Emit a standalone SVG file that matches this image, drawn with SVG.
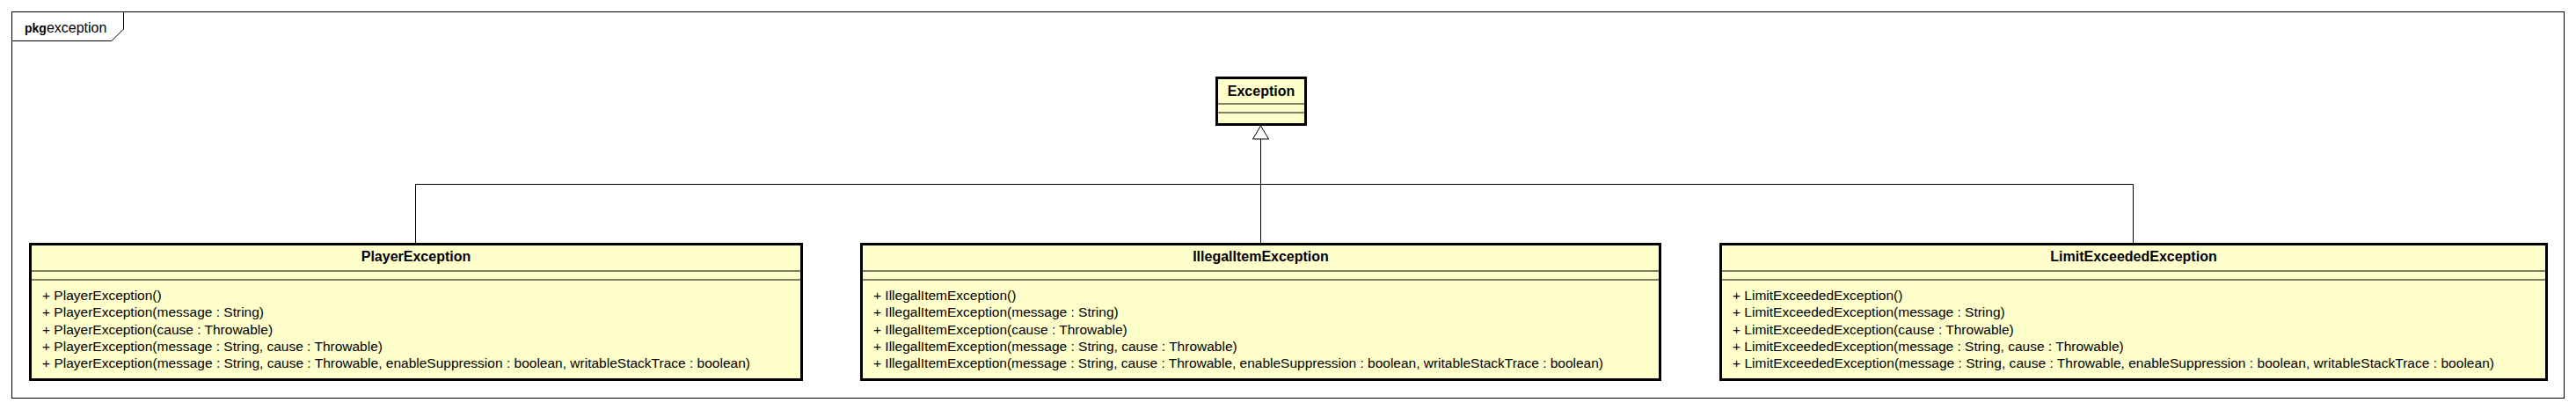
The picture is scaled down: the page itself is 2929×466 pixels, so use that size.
<svg xmlns="http://www.w3.org/2000/svg" width="2929" height="466" viewBox="0 0 2929 466">
<style>
.frame{fill:none;stroke:#000;stroke-width:1}
.box{fill:#FFFFCC;stroke:#000;stroke-width:3}
.div{stroke:#000;stroke-width:1}
.title{font-family:"Liberation Sans",Arial,sans-serif;font-size:16px;font-weight:bold;fill:#000;text-anchor:middle}
.mem{font-family:"Liberation Sans",Arial,sans-serif;font-size:15.5px;fill:#000}
.pkg{font-family:"Liberation Sans",Arial,sans-serif;font-size:16px;fill:#000}
.conn{fill:none;stroke:#000;stroke-width:1}
.head{fill:#fff;stroke:#000;stroke-width:1}
</style>
<rect width="2929" height="466" fill="#fff"/>
<g id="frame">
<rect class="frame" x="13.5" y="13.5" width="2902" height="439"/>
<path class="frame" d="M13.5 46.5 H127 L140.5 33 V13.5"/>
<text class="pkg" x="28" y="37"><tspan font-weight="bold" font-size="14">pkg</tspan>exception</text>
</g>
<g id="connectors">
<path class="conn" d="M1433.5 158 V209.5 M472.5 276 V209.5 H2425.5 V276 M1433.5 209.5 V276"/>
<path class="head" d="M1433.5 143 L1442.5 158 H1424.5 Z"/>
</g>
<g id="Exception">
<rect class="box" x="1383.5" y="88.5" width="101" height="53"/>
<line class="div" x1="1385" y1="118" x2="1483" y2="118"/>
<line class="div" x1="1385" y1="128" x2="1483" y2="128"/>
<text class="title" x="1434" y="109">Exception</text>
</g>
<g id="PlayerException">
<rect class="box" x="34.5" y="277.5" width="877" height="154"/>
<line class="div" x1="36" y1="308" x2="910" y2="308"/>
<line class="div" x1="36" y1="318" x2="910" y2="318"/>
<text class="title" x="473" y="297">PlayerException</text>
<text class="mem" x="48" y="341">+ PlayerException()</text>
<text class="mem" x="48" y="360.3">+ PlayerException(message : String)</text>
<text class="mem" x="48" y="379.6">+ PlayerException(cause : Throwable)</text>
<text class="mem" x="48" y="398.9">+ PlayerException(message : String, cause : Throwable)</text>
<text class="mem" x="48" y="418.2" textLength="805" lengthAdjust="spacing">+ PlayerException(message : String, cause : Throwable, enableSuppression : boolean, writableStackTrace : boolean)</text>
</g>
<g id="IllegalItemException">
<rect class="box" x="979.5" y="277.5" width="908" height="154"/>
<line class="div" x1="981" y1="308" x2="1886" y2="308"/>
<line class="div" x1="981" y1="318" x2="1886" y2="318"/>
<text class="title" x="1433.5" y="297">IllegalItemException</text>
<text class="mem" x="993" y="341">+ IllegalItemException()</text>
<text class="mem" x="993" y="360.3">+ IllegalItemException(message : String)</text>
<text class="mem" x="993" y="379.6">+ IllegalItemException(cause : Throwable)</text>
<text class="mem" x="993" y="398.9">+ IllegalItemException(message : String, cause : Throwable)</text>
<text class="mem" x="993" y="418.2" textLength="830" lengthAdjust="spacing">+ IllegalItemException(message : String, cause : Throwable, enableSuppression : boolean, writableStackTrace : boolean)</text>
</g>
<g id="LimitExceededException">
<rect class="box" x="1956.5" y="277.5" width="939" height="154"/>
<line class="div" x1="1958" y1="308" x2="2894" y2="308"/>
<line class="div" x1="1958" y1="318" x2="2894" y2="318"/>
<text class="title" x="2426" y="297">LimitExceededException</text>
<text class="mem" x="1970" y="341">+ LimitExceededException()</text>
<text class="mem" x="1970" y="360.3">+ LimitExceededException(message : String)</text>
<text class="mem" x="1970" y="379.6">+ LimitExceededException(cause : Throwable)</text>
<text class="mem" x="1970" y="398.9">+ LimitExceededException(message : String, cause : Throwable)</text>
<text class="mem" x="1970" y="418.2" textLength="866" lengthAdjust="spacing">+ LimitExceededException(message : String, cause : Throwable, enableSuppression : boolean, writableStackTrace : boolean)</text>
</g>
</svg>
